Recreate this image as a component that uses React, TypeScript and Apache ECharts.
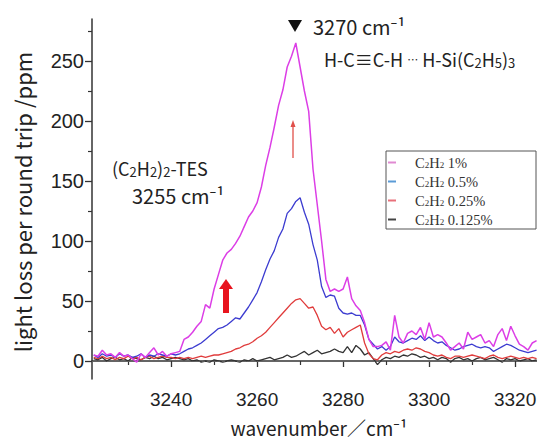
import React, { useEffect, useRef } from 'react';
import * as echarts from 'echarts';

const wavenumber = [
  3222, 3223, 3224, 3225, 3226, 3227, 3228, 3229, 3230, 3231,
  3232, 3233, 3234, 3235, 3236, 3237, 3238, 3239, 3240, 3241,
  3242, 3243, 3244, 3245, 3246, 3247, 3248, 3249, 3250, 3251,
  3252, 3253, 3254, 3255, 3256, 3257, 3258, 3259, 3260, 3261,
  3262, 3263, 3264, 3265, 3266, 3267, 3268, 3269, 3270, 3271,
  3272, 3273, 3274, 3275, 3276, 3277, 3278, 3279, 3280, 3281,
  3282, 3283, 3284, 3285, 3286, 3287, 3288, 3289, 3290, 3291,
  3292, 3293, 3294, 3295, 3296, 3297, 3298, 3299, 3300, 3301,
  3302, 3303, 3304, 3305, 3306, 3307, 3308, 3309, 3310, 3311,
  3312, 3313, 3314, 3315, 3316, 3317, 3318, 3319, 3320, 3321,
  3322, 3323, 3324, 3325,
];

const c2h2_1 = [
  5, 4, 9, 5, 6, 3, 7, 4, 5, 2,
  -1, 6, 3, 7, 11, 5, 8, 4, 6, 7,
  8, 18, 20, 24, 29, 33, 47, 44, 60, 72,
  84, 90, 93, 98, 104, 112, 120, 125, 132, 145,
  163, 178, 195, 213, 226, 245, 254, 265, 245, 225,
  208, 160, 130, 100, 68, 58, 60, 58, 60, 70,
  52, 46, 42, 32, 18, 12, 12, 13, 16, 9,
  38, 20, 15, 23, 25, 22, 28, 18, 32, 20,
  22, 20, 15, 9, 12, 15, 10, 24, 18, 20,
  22, 15, 17, 12, 22, 27, 17, 29, 21, 14,
  12, 9, 15, 17,
];

const c2h2_05 = [
  5, 3, 6, 4, 5, 3, 6, 4, 5, 3,
  4, 6, 3, 5, 4, 6, 5, 4, 6, 5,
  6, 8, 10, 11, 13, 15, 18, 21, 24, 27,
  28, 30, 33, 36, 35, 40, 45, 51, 57, 66,
  76, 85, 92, 103, 110, 123, 127, 133, 136, 124,
  114, 97, 84, 62, 53, 55, 54, 44, 40, 39,
  40, 38, 38, 30, 18, 14, 10, 12, 9, 12,
  20, 16, 15, 17, 19, 18, 21, 17, 20, 17,
  15, 16, 13, 11, 9, 10, 12, 13, 14, 12,
  11, 12, 11, 8, 10, 12, 14, 13, 11, 9,
  8, 7, 8, 9,
];

const c2h2_025 = [
  3, 2, 4, 2, 3, 1, 3, 2, 4, 2,
  3, 1, 3, 4, 2, 3, 4, 3, 3, 2,
  3, 2, 3, 2, 3, 4, 3, 4, 5, 5,
  6, 7, 8, 10, 11, 13, 14, 16, 19, 21,
  24, 28, 32, 36, 40, 44, 48, 51, 52, 48,
  44, 45, 38, 29, 26, 28, 23, 27, 20, 24,
  26, 28, 30, 15, 6, 2, 1, 5, 7, 6,
  8, 7, 9, 10, 9, 11, 10, 8, 7, 5,
  4, 5, 3, 2, 4, 4, 3, 4, 5, 4,
  3, 2, 4, 5, 3, 2, 3, 4, 3, 2,
  3, 2, 3, 2,
];

const c2h2_0125 = [
  2, 1, 3, 0, 2, 3, 1, 2, 0, 3,
  2, 1, 3, 2, 4, 2, 3, 1, 2, 3,
  2, 1, 2, 0, 1, -1, 0, -1, 1, 0,
  -1, 0, 1, 0, -1, 1, 0, 2, 0, 1,
  2, 3, 1, 2, 3, 5, 3, 4, 6, 8,
  5, 7, 9, 6, 7, 8, 10, 8, 7, 12,
  7, 13, 10, 5, 7, 2, -3, 1, 3, 2,
  4, 3, 5, 4, 6, 5, 3, 4, 2, 3,
  1, 3, 2, -1, 2, 3, 1, 2, 0, 2,
  3, 1, 2, 3, 1, -1, 2, 1, 2, 0,
  1, 2, 0, 1,
];

const seriesNames = ['C2H2 1%', 'C2H2 0.5%', 'C2H2 0.25%', 'C2H2 0.125%'];
const xMajorTicks = [3240, 3260, 3280, 3300, 3320];
const xMinorTicks = [3230, 3250, 3270, 3290, 3310];
const yMajorTicks = [0, 50, 100, 150, 200, 250];
const yMinorTicks = [25, 75, 125, 175, 225, 275];

const lineColors = ['#dc3ee6', '#3c3cd0', '#e03c3c', '#333333'];
const legendColors = ['#e08ad2', '#5a9bd6', '#e8707a', '#444444'];

const SANS = 'Liberation Sans, Arial, sans-serif';
const GOTHIC = 'Noto Sans CJK JP, Noto Sans, sans-serif';
const SERIF = 'Liberation Serif, Times New Roman, serif';

function pairs(vals: number[]) {
  return wavenumber.map((w, i) => [w, vals[i]]);
}

export default function App() {
  const ref = useRef<HTMLDivElement>(null);
  useEffect(() => {
    document.body.style.margin = '0';
    const chart = echarts.init(ref.current!, null, { renderer: 'svg' });
    const seriesVals = [c2h2_1, c2h2_05, c2h2_025, c2h2_0125];
    const series: any[] = [3, 2, 1, 0].map((k) => ({
      type: 'line',
      name: seriesNames[k],
      data: pairs(seriesVals[k]),
      showSymbol: false,
      symbol: 'none',
      xAxisIndex: 0,
      yAxisIndex: 0,
      lineStyle: { color: lineColors[k], width: k === 0 ? 1.5 : 1.3 },
      itemStyle: { color: lineColors[k] },
      z: 2 + (3 - k),
      markLine:
        k === 3
          ? {
              silent: true,
              symbol: ['none', 'none'],
              label: { show: false },
              lineStyle: { type: [3, 2], color: '#666', width: 0.8 },
              data: [{ yAxis: 0 }],
            }
          : undefined,
    }));

    const axisCommon = {
      type: 'value',
      splitLine: { show: false },
    };

    chart.setOption({
      animation: false,
      backgroundColor: '#ffffff',
      grid: { left: 92, right: 0, top: 19, bottom: 64, outerBoundsMode: 'none' },
      xAxis: [
        {
          ...axisCommon,
          min: 3221.6,
          max: 3325.1,
          position: 'bottom',
          axisLine: { show: true, lineStyle: { color: '#333', width: 1.5 } },
          axisTick: { show: true, customValues: xMajorTicks, length: 6, lineStyle: { color: '#333', width: 1.3 } },
          axisLabel: {
            customValues: xMajorTicks,
            formatter: (v: number) => String(v),
            margin: 11,
            fontSize: 19,
            fontFamily: SANS,
            color: '#222',
          },
        },
        {
          ...axisCommon,
          min: 3221.6,
          max: 3325.1,
          position: 'bottom',
          axisLine: { show: false },
          axisTick: { show: true, customValues: xMinorTicks, length: 4, lineStyle: { color: '#333', width: 1.2 } },
          axisLabel: { show: false },
        },
      ],
      yAxis: [
        {
          ...axisCommon,
          min: -15,
          max: 285,
          position: 'left',
          axisLine: { show: true, lineStyle: { color: '#333', width: 1.5 } },
          axisTick: { show: true, customValues: yMajorTicks, length: 7, lineStyle: { color: '#333', width: 1.3 } },
          axisLabel: {
            customValues: yMajorTicks,
            formatter: (v: number) => String(v),
            margin: 8,
            fontSize: 20,
            fontFamily: SANS,
            color: '#222',
          },
        },
        {
          ...axisCommon,
          min: -15,
          max: 285,
          position: 'left',
          axisLine: { show: false },
          axisTick: { show: true, customValues: yMinorTicks, length: 4, lineStyle: { color: '#333', width: 1.2 } },
          axisLabel: { show: false },
        },
      ],
      legend: {
        orient: 'vertical',
        left: 388,
        top: 155,
        padding: 0,
        itemGap: 4,
        itemWidth: 8,
        itemHeight: 2,
        icon: 'rect',
        data: seriesNames.map((n, i) => ({ name: n, itemStyle: { color: legendColors[i] } })),
        formatter: (name: string) => {
          const pct = name.split(' ')[1];
          return `{sp|}{n|C}{s|2}{n|H}{s|2}{n| ${pct}}`;
        },
        textStyle: {
          rich: {
            sp: { width: 14 },
            n: { fontFamily: SERIF, fontSize: 14.5, lineHeight: 14, color: '#333' },
            s: { fontFamily: SERIF, fontSize: 9, lineHeight: 6, verticalAlign: 'bottom', color: '#333' },
          },
        },
      },
      graphic: [
        {
          type: 'rect',
          shape: { x: 386, y: 151, width: 150, height: 78 },
          style: { fill: 'none', stroke: '#555', lineWidth: 1 },
          z: 10,
        },
        {
          type: 'polygon',
          shape: { points: [[288, 20], [302, 20], [295, 32]] },
          style: { fill: '#111' },
        },
        {
          type: 'text',
          x: 313,
          y: 26,
          style: { text: '3270 cm⁻¹', font: `20px ${GOTHIC}`, fill: '#222', textVerticalAlign: 'middle' },
        },
        {
          type: 'text',
          x: 324,
          y: 59,
          style: {
            text: '{n|H-C≡C-H }{d|⋯}{n| H-Si(C}{s|2}{n|H}{s|5}{n|)}{s|3}',
            textVerticalAlign: 'middle',
            rich: {
              n: { font: `18px ${GOTHIC}`, fill: '#222', lineHeight: 20 },
              d: { font: `11px ${GOTHIC}`, fill: '#222', lineHeight: 20 },
              s: { font: `13px ${GOTHIC}`, fill: '#222', lineHeight: 15, verticalAlign: 'bottom' },
            },
          },
        },
        {
          type: 'text',
          x: 112,
          y: 168,
          style: {
            text: '{n|(C}{s|2}{n|H}{s|2}{n|)}{s|2}{n|-TES}',
            textVerticalAlign: 'middle',
            rich: {
              n: { font: `18px ${GOTHIC}`, fill: '#222', lineHeight: 20 },
              s: { font: `13px ${GOTHIC}`, fill: '#222', lineHeight: 15, verticalAlign: 'bottom' },
            },
          },
        },
        {
          type: 'text',
          x: 132,
          y: 195,
          style: { text: '3255 cm⁻¹', font: `20px ${GOTHIC}`, fill: '#222', textVerticalAlign: 'middle' },
        },
        {
          type: 'line',
          shape: { x1: 293, y1: 158, x2: 293, y2: 125 },
          style: { stroke: '#e0504a', lineWidth: 1.3 },
        },
        {
          type: 'polygon',
          shape: { points: [[290.5, 127], [295.5, 127], [293, 120]] },
          style: { fill: '#e0504a' },
        },
        {
          type: 'rect',
          shape: { x: 223, y: 287, width: 6, height: 26 },
          style: { fill: '#e8141e' },
        },
        {
          type: 'polygon',
          shape: { points: [[219, 289], [233, 289], [226, 279]] },
          style: { fill: '#e8141e' },
        },
        {
          type: 'text',
          x: 22,
          y: 202,
          rotation: Math.PI / 2,
          style: {
            text: 'light loss per round trip /ppm',
            font: `22px ${GOTHIC}`,
            fill: '#222',
            textAlign: 'center',
            textVerticalAlign: 'middle',
          },
        },
        {
          type: 'text',
          x: 319,
          y: 427,
          style: {
            text: 'wavenumber／cm⁻¹',
            font: `19px ${GOTHIC}`,
            fill: '#222',
            textAlign: 'center',
            textVerticalAlign: 'middle',
          },
        },
      ],
      series,
    });
    return () => chart.dispose();
  }, []);
  return <div ref={ref} style={{ width: 537, height: 443 }} />;
}
